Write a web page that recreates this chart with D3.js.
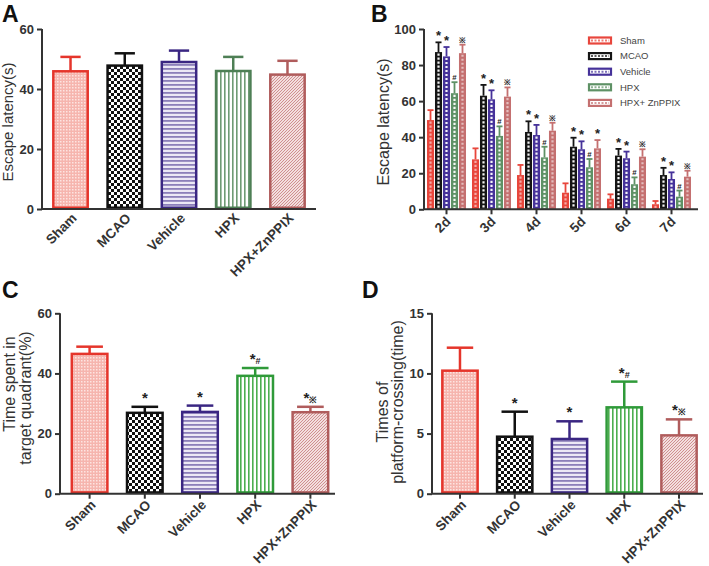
<!DOCTYPE html>
<html><head><meta charset="utf-8">
<script src="https://cdn.jsdelivr.net/npm/d3@7"></script>
<style>body{margin:0;background:#fff}svg{display:block;font-family:"Liberation Sans",Arial,sans-serif}</style>
</head><body><svg id="c" width="709" height="566"></svg>
<script>
// ---------- data ----------
const groups = ["Sham","MCAO","Vehicle","HPX","HPX+ZnPPIX"];
const days = ["2d","3d","4d","5d","6d","7d"];
const legendLabels = ["Sham","MCAO","Vehicle","HPX","HPX+ ZnPPIX"];

const aMean = [45.9,47.8,49.0,46.0,44.8];
const aErr  = [4.8,4.1,3.8,4.7,4.6];
const aTicks = [0,20,40,60];

const bShamMean = [49.5,27.7,19.0,9.2,5.9,2.8];
const bShamErr  = [5.5,6.1,5.6,5.2,2.4,1.8];
const bMcaoMean = [87.2,63.0,42.9,34.7,29.8,19.0];
const bMcaoErr  = [5.4,6.0,5.9,5.0,3.7,4.0];
const bVehMean  = [84.8,61.0,41.2,33.3,28.3,16.8];
const bVehErr   = [5.2,5.0,5.6,4.4,3.7,3.7];
const bHpxMean  = [64.4,40.7,28.8,23.3,13.9,7.0];
const bHpxErr   = [6.1,5.3,5.9,4.6,3.8,3.4];
const bZnMean   = [86.6,62.5,43.6,33.8,29.2,18.1];
const bZnErr    = [4.7,5.1,4.4,4.6,4.1,3.3];
const bShamMark = ["","","","","",""];
const bMcaoMark = ["*","*","*","*","*","*"];
const bVehMark  = ["*","*","*","*","*","*"];
const bHpxMark  = ["#","#","#","#","#","#"];
const bZnMark   = ["※","※","※","*","※","※"];
const bTicks = [0,20,40,60,80,100];

const cMean = [46.5,26.9,27.2,39.2,27.1];
const cErr  = [2.4,2.0,2.1,2.6,1.8];
const cTicks = [0,20,40,60];
const dMean = [10.23,4.74,4.55,7.18,4.85];
const dErr  = [1.91,2.08,1.47,2.14,1.33];
const dTicks = [0,5,10,15];
const cdMarks = ["","*","*","*#","*※"];

// ---------- styles ----------
const stroke = ["#e5352b","#111111","#3a2682","#4e7f55","#b05c5c"];
const strokeCD = ["#e5352b","#111111","#3a2682","#2f9a39","#b05c5c"];
const bFill = ["#e8463c","#151515","#46329a","#5e9165","#c47070"];

const svg = d3.select("#c");
const defs = svg.append("defs");
function pat(id,w,h,bg,draw){
  const p = defs.append("pattern").attr("id",id).attr("patternUnits","userSpaceOnUse").attr("width",w).attr("height",h);
  p.append("rect").attr("width",w).attr("height",h).attr("fill",bg);
  draw(p);
}
pat("pSham",3,3,"#f6b5ae",p=>{p.append("rect").attr("width",1.5).attr("height",1.5).attr("fill","#fde4e1");});
pat("pMcao",6,6,"#ffffff",p=>{p.append("rect").attr("width",3).attr("height",3).attr("fill","#111");p.append("rect").attr("x",3).attr("y",3).attr("width",3).attr("height",3).attr("fill","#111");});
pat("pVeh",4,4,"#ece8f5",p=>{p.append("rect").attr("y",0).attr("width",4).attr("height",1.8).attr("fill","#8c7fba");});
pat("pHpxA",4,4,"#ffffff",p=>{p.append("rect").attr("x",0).attr("width",1.6).attr("height",4).attr("fill","#6f9b74");});
pat("pHpxC",4,4,"#ffffff",p=>{p.append("rect").attr("x",0).attr("width",1.6).attr("height",4).attr("fill","#4cae4f");});
pat("pZn",3,3,"#f3dede",p=>{p.append("path").attr("d","M-1,4 L4,-1 M-1,1 L1,-1 M2,4 L4,2").attr("stroke","#cf8f8f").attr("stroke-width",1);});

const fillA = ["url(#pSham)","url(#pMcao)","url(#pVeh)","url(#pHpxA)","url(#pZn)"];
const fillCD = ["url(#pSham)","url(#pMcao)","url(#pVeh)","url(#pHpxC)","url(#pZn)"];

function styleYAxis(g){
  g.select(".domain").attr("stroke","#333").attr("stroke-width",2);
  g.selectAll(".tick line").attr("stroke","#333").attr("stroke-width",2);
  g.selectAll(".tick text").attr("font-size",13).attr("font-weight","bold").attr("fill","#333").attr("font-family","Liberation Sans, Arial, sans-serif");
}

function markText(sel, mark, x, y, big){
  const t = sel.append("text").attr("x",x).attr("y",y).attr("text-anchor","middle").attr("fill","#222").attr("font-weight","bold");
  for(const ch of mark){
    if(ch==="*") t.append("tspan").attr("font-size",big).text("*");
    else t.append("tspan").attr("font-size",big*0.6).attr("dy",0).text(ch);
  }
}

function simplePanel(cfg){
  const g = svg.append("g");
  const x = d3.scaleBand().domain(groups).range(cfg.xr).paddingInner(cfg.pi).paddingOuter(cfg.pi/2);
  const y = d3.scaleLinear().domain([0,cfg.ymax]).range([cfg.y0,cfg.y1]);
  const bw = x.bandwidth();
  groups.forEach((k,i)=>{
    const cx = x(k)+bw/2, top = y(cfg.mean[i]+cfg.err[i]);
    g.append("line").attr("x1",cx).attr("x2",cx).attr("y1",y(cfg.mean[i])).attr("y2",top).attr("stroke",cfg.stroke[i]).attr("stroke-width",2.5);
    g.append("line").attr("x1",cx-bw*cfg.cap/2).attr("x2",cx+bw*cfg.cap/2).attr("y1",top).attr("y2",top).attr("stroke",cfg.stroke[i]).attr("stroke-width",2.5);
    if(cfg.marks && cfg.marks[i]) markText(g,cfg.marks[i],cx,top-4,15);
  });
  g.selectAll("rect.bar").data(groups).join("rect").attr("class","bar")
    .attr("x",d=>x(d)+1.25).attr("width",bw-2.5)
    .attr("y",(d,i)=>y(cfg.mean[i])).attr("height",(d,i)=>cfg.y0-y(cfg.mean[i])-1.25)
    .attr("fill",(d,i)=>cfg.fill[i]).attr("stroke",(d,i)=>cfg.stroke[i]).attr("stroke-width",2.5);
  g.append("line").attr("x1",cfg.ax).attr("x2",cfg.xend).attr("y1",cfg.y0).attr("y2",cfg.y0).attr("stroke","#333").attr("stroke-width",2);
  const xa = g.append("g").attr("transform",`translate(0,${cfg.y0})`).call(d3.axisBottom(x).tickSize(cfg.xtick).tickFormat(""));
  xa.select(".domain").remove();
  xa.selectAll(".tick line").attr("stroke","#333").attr("stroke-width",2);
  groups.forEach((k,i)=>{
    g.append("text").attr("text-anchor","end").attr("font-size",13.5).attr("font-weight","bold").attr("fill","#333")
      .attr("transform",`translate(${x(k)+bw/2+cfg.ldx},${cfg.y0+cfg.ldy}) rotate(-45)`).text(k);
  });
  const ya = g.append("g").attr("transform",`translate(${cfg.ax},0)`).call(d3.axisLeft(y).tickValues(cfg.ticks).tickSize(5).tickSizeOuter(0).tickPadding(3));
  styleYAxis(ya);
  ya.select(".domain").attr("d",`M0,${cfg.y0}V${cfg.y1}`);
  cfg.ylab.forEach((l,j)=>{
    g.append("text").attr("text-anchor","middle").attr("font-size",cfg.ylabSize).attr("fill","#333")
      .attr("transform",`translate(${l.x},${l.y}) rotate(-90)`).text(l.t);
  });
  g.append("text").attr("x",cfg.letter[0]).attr("y",cfg.letter[1]).attr("font-size",23).attr("font-weight","bold").attr("fill","#111").text(cfg.letter[2]);
}

simplePanel({xr:[43.4,314.6],pi:0.32,ymax:60,y0:209,y1:29,ax:42,xend:316,mean:aMean,err:aErr,ticks:aTicks,
  fill:fillA,stroke:stroke,cap:0.55,xtick:0,ldx:7,ldy:10,marks:null,
  ylab:[{x:13,y:122,t:"Escape latency(s)"}],ylabSize:15,letter:[2,22,"A"]});
simplePanel({xr:[62,338],pi:0.31,ymax:60,y0:493.7,y1:313.3,ax:60,xend:335,mean:cMean,err:cErr,ticks:cTicks,
  fill:fillCD,stroke:strokeCD,cap:0.7,xtick:5,ldx:7,ldy:12,marks:cdMarks,
  ylab:[{x:15,y:384,t:"Time spent in"},{x:31,y:398,t:"target quadrant(%)"}],ylabSize:16,letter:[2,298,"C"]});
simplePanel({xr:[432.6,706.4],pi:0.31,ymax:15,y0:493.7,y1:313.3,ax:432,xend:703,mean:dMean,err:dErr,ticks:dTicks,
  fill:fillCD,stroke:strokeCD,cap:0.7,xtick:5,ldx:7,ldy:12,marks:cdMarks,
  ylab:[{x:388,y:412,t:"Times of"},{x:403,y:402,t:"platform-crossing(time)"}],ylabSize:16,letter:[362,298,"D"]});

(function(){
  const g = svg.append("g");
  const series = [
    {m:bShamMean,e:bShamErr,k:bShamMark},
    {m:bMcaoMean,e:bMcaoErr,k:bMcaoMark},
    {m:bVehMean,e:bVehErr,k:bVehMark},
    {m:bHpxMean,e:bHpxErr,k:bHpxMark},
    {m:bZnMean,e:bZnErr,k:bZnMark}];
  const x0 = d3.scaleBand().domain(days).range([424,694]).paddingInner(0.133).paddingOuter(0.0665);
  const x1 = d3.scaleBand().domain(groups).range([0,x0.bandwidth()]).paddingInner(0.12);
  const y = d3.scaleLinear().domain([0,100]).range([209.3,29]);
  const bw = x1.bandwidth();
  days.forEach((d,di)=>{
    groups.forEach((s,si)=>{
      const S = series[si];
      const left = x0(d)+x1(s), cx = left+bw/2, v=S.m[di], top=y(v+S.e[di]);
      g.append("line").attr("x1",cx).attr("x2",cx).attr("y1",y(v)).attr("y2",top).attr("stroke",bFill[si]).attr("stroke-width",1.8);
      g.append("line").attr("x1",left+0.5).attr("x2",left+bw-0.5).attr("y1",top).attr("y2",top).attr("stroke",bFill[si]).attr("stroke-width",1.8);
      g.append("rect").attr("x",left).attr("width",bw).attr("y",y(v)).attr("height",y(0)-y(v)).attr("fill",bFill[si]);
      g.append("line").attr("x1",cx).attr("x2",cx).attr("y1",y(v)+1.5).attr("y2",y(0)-1).attr("stroke","#fff").attr("stroke-opacity",si===0||si===4?0.55:0.95)
        .attr("stroke-width",2.2).attr("stroke-dasharray","2.2,1.8");
      if(S.k[di]) markText(g,S.k[di],cx,top-2,13);
    });
  });
  g.append("line").attr("x1",424).attr("x2",698).attr("y1",209.3).attr("y2",209.3).attr("stroke","#333").attr("stroke-width",2);
  const xa = g.append("g").attr("transform","translate(0,209.3)").call(d3.axisBottom(x0).tickSize(5).tickFormat(""));
  xa.select(".domain").remove();
  xa.selectAll(".tick line").attr("stroke","#333").attr("stroke-width",2);
  days.forEach(d=>{
    g.append("text").attr("text-anchor","end").attr("font-size",13.5).attr("font-weight","bold").attr("fill","#333")
      .attr("transform",`translate(${x0(d)+x0.bandwidth()/2+5},${209.3+13}) rotate(-45)`).text(d);
  });
  const ya = g.append("g").attr("transform","translate(424,0)").call(d3.axisLeft(y).tickValues(bTicks).tickSize(5).tickSizeOuter(0).tickPadding(3));
  styleYAxis(ya);
  ya.select(".domain").attr("d","M0,209.3V29");
  g.append("text").attr("text-anchor","middle").attr("font-size",16).attr("fill","#333")
    .attr("transform","translate(389,122) rotate(-90)").text("Escape latency(s)");
  g.append("text").attr("x",371).attr("y",22).attr("font-size",23).attr("font-weight","bold").attr("fill","#111").text("B");
  const lg = g.append("g");
  legendLabels.forEach((l,i)=>{
    const yy = 40.5+i*15.6;
    lg.append("rect").attr("x",589).attr("y",yy-3).attr("width",22).attr("height",6).attr("fill","#fff").attr("stroke",bFill[i]).attr("stroke-width",2.2);
    lg.append("line").attr("x1",591).attr("x2",609).attr("y1",yy).attr("y2",yy).attr("stroke",bFill[i]).attr("stroke-width",2).attr("stroke-dasharray","2,1.5").attr("stroke-opacity",0.7);
    lg.append("text").attr("x",620).attr("y",yy+3.2).attr("font-size",9.5).attr("fill","#444").text(l);
  });
})();
</script></body></html>
